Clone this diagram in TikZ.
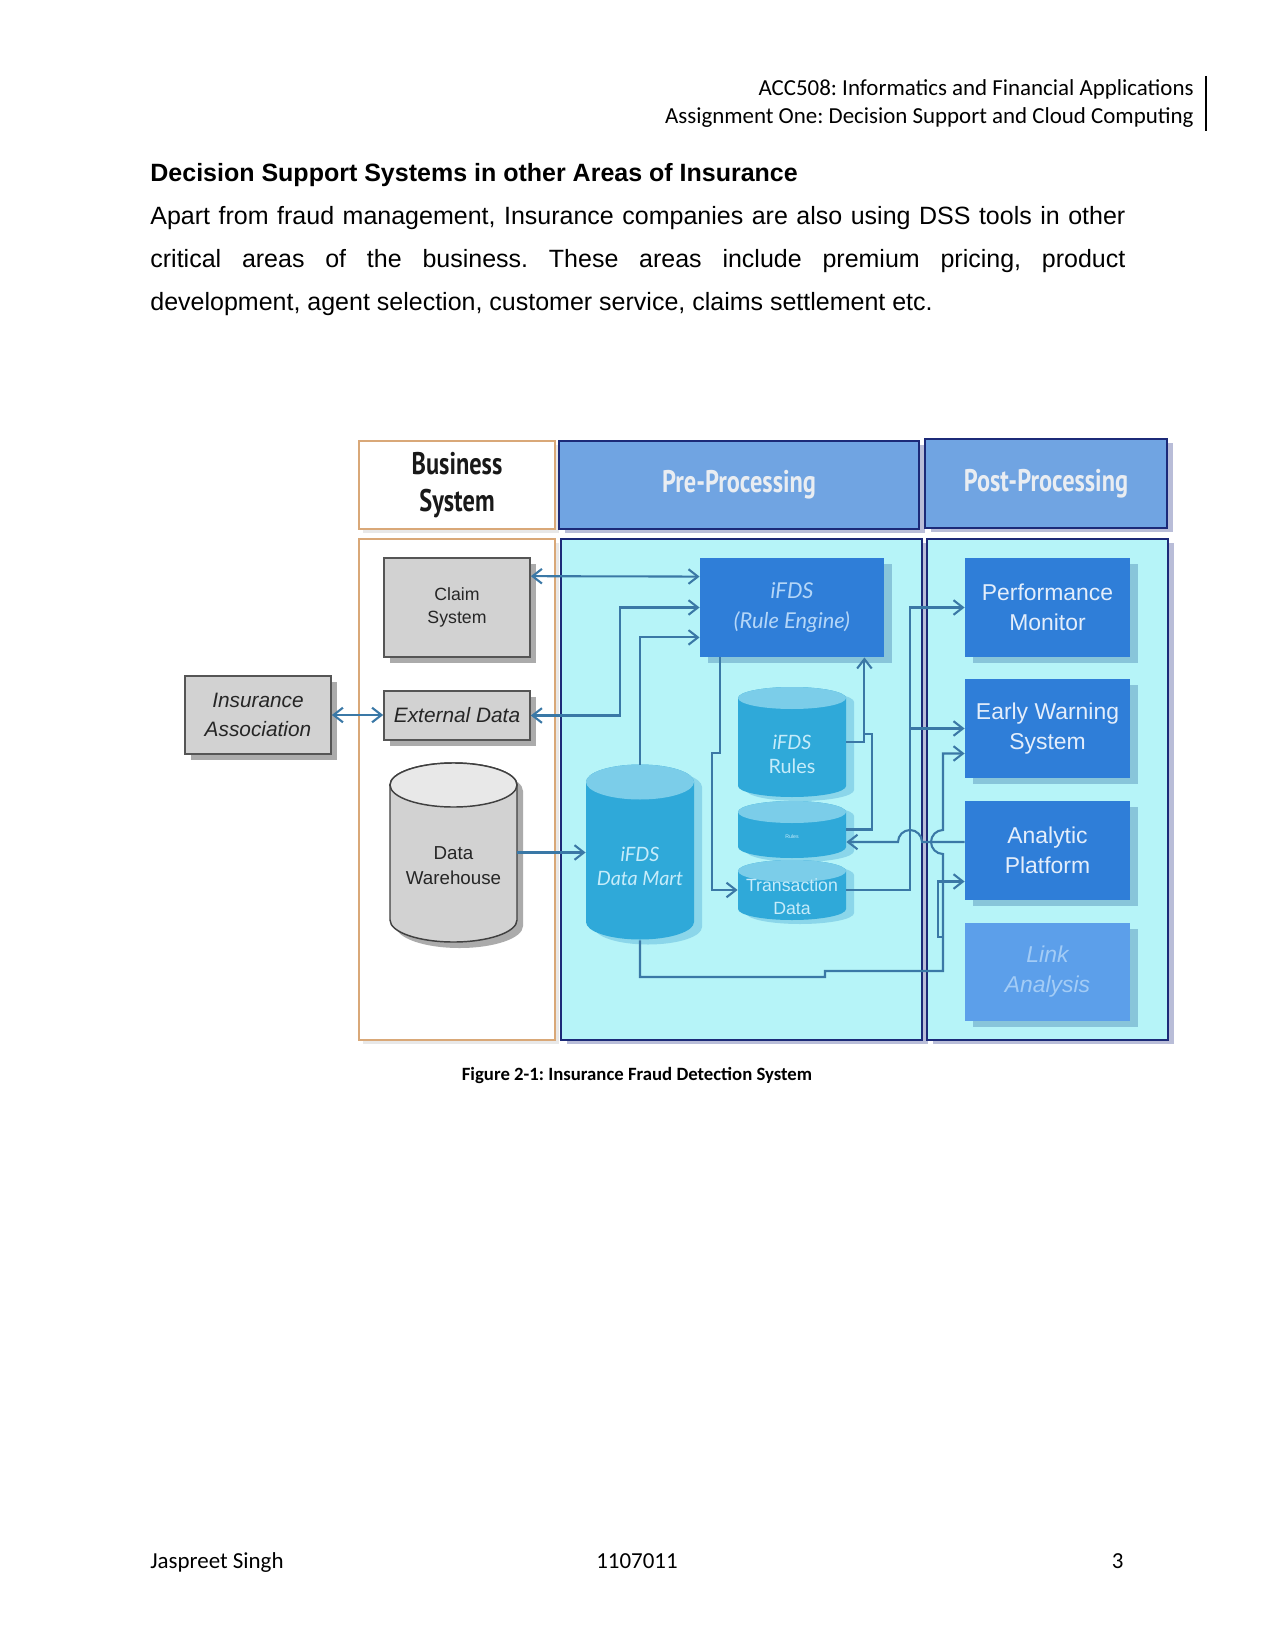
\documentclass[tikz,border=0pt]{standalone}
\usepackage{fontspec}
\setmainfont{Liberation Sans}
\newfontfamily\calfont{Carlito}
\newfontfamily\headfont[FakeStretch=0.78]{PT Sans}
\newfontfamily\roundfont{Lato}
\usetikzlibrary{arrows.meta, shadows, calc}
\frenchspacing

\definecolor{navy}{HTML}{1C2A78}
\definecolor{tanline}{HTML}{D9A878}
\definecolor{hdrblue}{HTML}{70A4E2}
\definecolor{hdrtext}{HTML}{E9EDF2}
\definecolor{panel}{HTML}{B6F4F8}
\definecolor{panelshade}{HTML}{B9BDD8}
\definecolor{boxblue}{HTML}{2F7ED8}
\definecolor{boxtext}{HTML}{E4EEFB}
\definecolor{engtext}{HTML}{B4D6F8}
\definecolor{linkblue}{HTML}{5C9FEA}
\definecolor{linktext}{HTML}{A3CCF6}
\definecolor{blueshade}{HTML}{88C5DA}
\definecolor{canbody}{HTML}{2FA9D9}
\definecolor{cantop}{HTML}{7BCDE9}
\definecolor{canshade}{HTML}{8BD6EA}
\definecolor{cantext}{HTML}{C6ECFA}
\definecolor{flowc}{HTML}{3A78A6}
\definecolor{greybox}{HTML}{D2D2D2}
\definecolor{greytop}{HTML}{E8E8E8}
\definecolor{greyline}{HTML}{555555}
\definecolor{greyshade}{HTML}{ABABAB}

\begin{document}
\begin{tikzpicture}[x=0.48pt, y=-0.48pt, every node/.style={inner sep=0pt},
  >={Straight Barb[length=4.5pt,width=7pt]},
  flow/.style={draw=flowc, line width=1pt},
  bizbox/.style={draw=tanline, line width=1pt, fill=white, minimum width=94.08pt, drop shadow={shadow xshift=2pt, shadow yshift=-2pt, fill=greytop, opacity=1}},
  headbox/.style={draw=navy, line width=1.1pt, fill=hdrblue, text=hdrtext, font=\headfont\bfseries\fontsize{15}{18}\selectfont, drop shadow={shadow xshift=3pt, shadow yshift=-2pt, fill=panelshade, opacity=1}},
  panelbox/.style={draw=navy, line width=1.1pt, fill=panel, minimum height=240.48pt, drop shadow={shadow xshift=3pt, shadow yshift=-2pt, fill=panelshade, opacity=1}},
  greyitem/.style={draw=greyline, line width=0.8pt, fill=greybox, text=black!85, align=center, minimum width=70.08pt, drop shadow={shadow xshift=3pt, shadow yshift=-3pt, fill=greyshade, opacity=1}},
  blueitem/.style={fill=boxblue, text=boxtext, align=center, minimum width=79.2pt, minimum height=47.52pt, font=\fontsize{11}{14.4}\selectfont, drop shadow={shadow xshift=4pt, shadow yshift=-3pt, fill=blueshade, opacity=1}}]
  \useasboundingbox (0,0) rectangle (1275,1650);
  \fill[white] (0,0) rectangle (1275,1650);

  % page header, heading and paragraph
  \node[anchor=base east, font=\calfont\fontsize{11}{13.4}\selectfont] (hdrone) at (1194,96) {ACC508: Informatics and Financial Applications};
  \node[anchor=base east, font=\calfont\fontsize{11}{13.4}\selectfont] (hdrtwo) at (1194,124) {Assignment One: Decision Support and Cloud Computing};
  \draw[line width=0.8pt] (1206,76) -- (1206,131);
  \node[anchor=base west, font=\bfseries\fontsize{12}{14}\selectfont] (title) at (150,182) {Decision Support Systems in other Areas of Insurance};
  \node[anchor=base west, font=\fontsize{12}{14}\selectfont] (parone) at (150,225) {\makebox[468pt][s]{Apart from fraud management, Insurance companies are also using DSS tools in other}};
  \node[anchor=base west, font=\fontsize{12}{14}\selectfont] (partwo) at (150,268) {\makebox[468pt][s]{critical areas of the business. These areas include premium pricing, product}};
  \node[anchor=base west, font=\fontsize{12}{14}\selectfont] (parthree) at (150,311) {development, agent selection, customer service, claims settlement etc.};

  % column headers and panels
  \node[bizbox, minimum height=42.24pt, align=center, text=black!90, font=\headfont\bfseries\fontsize{15}{18}\selectfont] (bizhead) at (457,485) {Business\\System};
  \node[headbox, minimum width=172.8pt, minimum height=42.24pt] (prehead) at (739,485) {Pre-Processing};
  \node[headbox, minimum width=116.16pt, minimum height=42.72pt] (posthead) at (1046,483.5) {Post-Processing};
  \node[bizbox, minimum height=240.48pt] (bizpanel) at (457,789.5) {};
  \node[panelbox, minimum width=173.28pt] (prepanel) at (741.5,789.5) {};
  \node[panelbox, minimum width=115.68pt] (postpanel) at (1047.5,789.5) {};

  % business side
  \node[greyitem, minimum height=47.52pt, font=\fontsize{8.5}{11}\selectfont] (claim) at (457,607.5) {Claim\\System};
  \node[greyitem, minimum height=37.44pt, font=\itshape\fontsize{10}{13.6}\selectfont] (assoc) at (258,715) {Insurance\\Association};
  \node[greyitem, minimum height=23.52pt, font=\itshape\fontsize{10}{12}\selectfont] (ext) at (457,715.5) {External Data};
  \fill[greyshade] (396,791) -- (396,926) arc[start angle=180, end angle=360, x radius=30.48pt, y radius=10.56pt] -- (523,791) arc[start angle=0, end angle=180, x radius=30.48pt, y radius=10.56pt] -- cycle;
  \filldraw[fill=greybox, draw=black!75, line width=0.7pt] (390,785) -- (390,920) arc[start angle=180, end angle=360, x radius=30.48pt, y radius=10.56pt] -- (517,785) arc[start angle=0, end angle=180, x radius=30.48pt, y radius=10.56pt] -- cycle;
  \filldraw[fill=greytop, draw=black!75, line width=0.7pt] (453.5,785) ellipse[x radius=30.48pt, y radius=10.56pt];
  \node[minimum width=60.96pt, minimum height=85.92pt] (dw) at (453.5,852.5) {};
  \node[align=center, text=black!85, font=\fontsize{9}{12}\selectfont] (dwtext) at (453.5,866) {Data\\Warehouse};

  % pre-processing
  \node[blueitem, minimum width=88.32pt, text=engtext, font=\roundfont\itshape\fontsize{10.5}{14}\selectfont] (rule) at (792,607.5) {iFDS\\(Rule Engine)};
  \fill[canshade] (594,787) -- (594,927) arc[start angle=180, end angle=360, x radius=25.92pt, y radius=8.4pt] -- (702,787) arc[start angle=0, end angle=180, x radius=25.92pt, y radius=8.4pt] -- cycle;
  \fill[canbody] (586,782) -- (586,922) arc[start angle=180, end angle=360, x radius=25.92pt, y radius=8.4pt] -- (694,782) arc[start angle=0, end angle=180, x radius=25.92pt, y radius=8.4pt] -- cycle;
  \fill[cantop] (640,782) ellipse[x radius=25.92pt, y radius=8.4pt];
  \node[minimum width=51.84pt, minimum height=84pt] (dm) at (640,852.5) {};
  \node[align=center, text=cantext, font=\roundfont\itshape\fontsize{9.5}{11.5}\selectfont] (dmtext) at (640,866) {iFDS\\Data Mart};
  \fill[canshade] (746,702) -- (746,790) arc[start angle=180, end angle=360, x radius=25.92pt, y radius=5.28pt] -- (854,702) arc[start angle=0, end angle=180, x radius=25.92pt, y radius=5.28pt] -- cycle;
  \fill[canshade] (746,816) -- (746,851) arc[start angle=180, end angle=360, x radius=25.92pt, y radius=5.28pt] -- (854,816) arc[start angle=0, end angle=180, x radius=25.92pt, y radius=5.28pt] -- cycle;
  \fill[canshade] (746,875) -- (746,913) arc[start angle=180, end angle=360, x radius=25.92pt, y radius=5.28pt] -- (854,875) arc[start angle=0, end angle=180, x radius=25.92pt, y radius=5.28pt] -- cycle;
  \fill[canbody] (738,698) -- (738,786) arc[start angle=180, end angle=360, x radius=25.92pt, y radius=5.28pt] -- (846,698) arc[start angle=0, end angle=180, x radius=25.92pt, y radius=5.28pt] -- cycle;
  \fill[cantop] (792,698) ellipse[x radius=25.92pt, y radius=5.28pt];
  \fill[canbody] (738,812) -- (738,847) arc[start angle=180, end angle=360, x radius=25.92pt, y radius=5.28pt] -- (846,812) arc[start angle=0, end angle=180, x radius=25.92pt, y radius=5.28pt] -- cycle;
  \fill[cantop] (792,812) ellipse[x radius=25.92pt, y radius=5.28pt];
  \fill[canbody] (738,871) -- (738,909) arc[start angle=180, end angle=360, x radius=25.92pt, y radius=5.28pt] -- (846,871) arc[start angle=0, end angle=180, x radius=25.92pt, y radius=5.28pt] -- cycle;
  \fill[cantop] (792,871) ellipse[x radius=25.92pt, y radius=5.28pt];
  \node[minimum width=51.84pt, minimum height=52.8pt] (rules) at (792,742) {};
  \node[minimum width=51.84pt, minimum height=27.36pt] (mid) at (792,829.5) {};
  \node[minimum width=51.84pt, minimum height=28.8pt] (trans) at (792,890) {};
  \node[align=center, text=cantext, font=\roundfont\fontsize{9.5}{11.5}\selectfont] (rulestext) at (792,754) {\textit{iFDS}\\Rules};
  \node[text=cantext, font=\fontsize{2.5}{3}\selectfont] (midtext) at (792,837) {Rules};
  \node[align=center, text=cantext, font=\fontsize{8.5}{11}\selectfont] (transtext) at (792,897) {Transaction\\Data};

  % post-processing
  \node[blueitem] (perf) at (1047.5,607.5) {Performance\\Monitor};
  \node[blueitem] (early) at (1047.5,728.5) {Early Warning\\System};
  \node[blueitem] (analytic) at (1047.5,850.5) {Analytic\\Platform};
  \node[blueitem, minimum height=47.04pt, fill=linkblue, text=linktext, font=\itshape\fontsize{11}{14.4}\selectfont] (link) at (1047.5,972) {Link\\Analysis};

  % connectors
  \coordinate (hop) at (910,842);
  \coordinate (tap) at (943,842);
  \coordinate (fork) at (943,937);
  \draw[flow, <->] ($(claim.north east)+(0,19)$) -- ($(rule.north west)+(0,19)$);
  \draw[flow, <->] (ext.east) -- ++(89,0) |- (rule.west);
  \draw[flow, <->] (assoc.east) -- (assoc.east -| ext.west);
  \draw[flow, ->] (dw.east) -- (dw.east -| dm.west);
  \draw[flow, ->] (dm.north) |- ($(rule.south west)+(0,-20)$);
  \draw[flow, ->] ($(rule.south west)+(20,0)$) -- ++(0,96) -- ++(-8,0) |- (trans.west);
  \draw[flow, ->] (rules.east) -| ($(rule.south east)+(-20,0)$);
  \draw[flow] (mid.east) -- ++(26,0) |- ($(rules.east)+(17,-8)$);
  \draw[flow, ->] (trans.east) -- ++(64,0) |- (perf.west);
  \draw[flow, ->] ($(perf.west)+(-55,0)$) |- (early.west);
  \draw[flow, ->] (analytic.west |- hop) -- ($(hop)+(12,0)$) arc[start angle=0, end angle=180, radius=5.76pt] -- (mid.east |- hop);
  \draw[flow, ->] (dm.south) |- (825,977) -- (825,971) -- (943,971) -- ($(tap)+(0,12)$) arc[start angle=270, end angle=90, radius=5.76pt] |- ($(early.west)+(0,25)$);
  \draw[flow, ->] (fork) -- ++(-5,0) |- ($(analytic.west)+(0,31)$);

  % caption and footer
  \node[anchor=base, font=\calfont\bfseries\fontsize{9}{11}\selectfont] (caption) at (637,1080) {Figure 2-1: Insurance Fraud Detection System};
  \node[anchor=base west, font=\calfont\fontsize{11}{13.4}\selectfont] (author) at (150,1568) {Jaspreet Singh};
  \node[anchor=base, font=\calfont\fontsize{11}{13.4}\selectfont] (studentid) at (637,1568) {1107011};
  \node[anchor=base east, font=\calfont\fontsize{11}{13.4}\selectfont] (pageno) at (1124,1568) {3};
\end{tikzpicture}
\end{document}
